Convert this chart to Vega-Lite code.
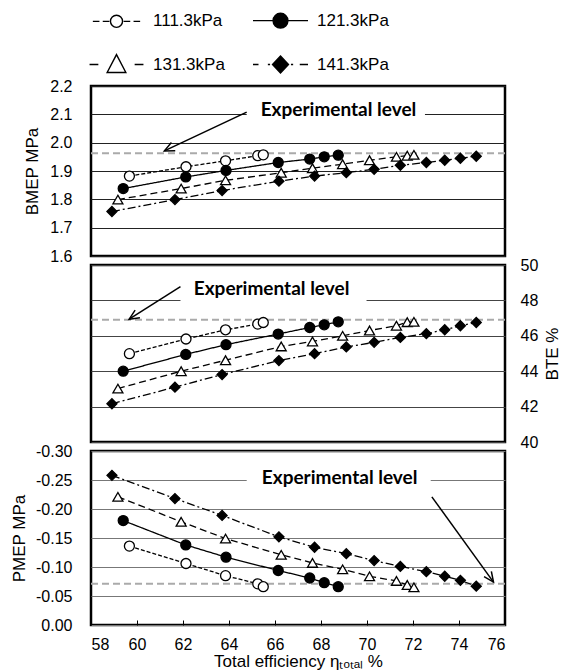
{
  "$schema": "https://vega.github.io/schema/vega-lite/v6.json",
  "padding": {"left": 9, "top": 10, "right": 0, "bottom": 0},
  "datasets": {
    "pts": [
      {"series": "111.3kPa", "eta": 59.67, "bmep": 1.882, "bte": 44.99, "pmep": -0.136},
      {"series": "111.3kPa", "eta": 62.13, "bmep": 1.915, "bte": 45.82, "pmep": -0.106},
      {"series": "111.3kPa", "eta": 63.85, "bmep": 1.936, "bte": 46.34, "pmep": -0.085},
      {"series": "111.3kPa", "eta": 65.25, "bmep": 1.954, "bte": 46.66, "pmep": -0.071},
      {"series": "111.3kPa", "eta": 65.49, "bmep": 1.957, "bte": 46.75, "pmep": -0.066},
      {"series": "121.3kPa", "eta": 59.40, "bmep": 1.838, "bte": 44.00, "pmep": -0.180},
      {"series": "121.3kPa", "eta": 62.12, "bmep": 1.879, "bte": 44.95, "pmep": -0.138},
      {"series": "121.3kPa", "eta": 63.87, "bmep": 1.902, "bte": 45.50, "pmep": -0.117},
      {"series": "121.3kPa", "eta": 66.14, "bmep": 1.930, "bte": 46.10, "pmep": -0.094},
      {"series": "121.3kPa", "eta": 67.51, "bmep": 1.942, "bte": 46.47, "pmep": -0.081},
      {"series": "121.3kPa", "eta": 68.14, "bmep": 1.950, "bte": 46.62, "pmep": -0.073},
      {"series": "121.3kPa", "eta": 68.75, "bmep": 1.956, "bte": 46.79, "pmep": -0.066},
      {"series": "131.3kPa", "eta": 59.17, "bmep": 1.799, "bte": 43.02, "pmep": -0.221},
      {"series": "131.3kPa", "eta": 61.92, "bmep": 1.838, "bte": 44.00, "pmep": -0.178},
      {"series": "131.3kPa", "eta": 63.85, "bmep": 1.867, "bte": 44.62, "pmep": -0.149},
      {"series": "131.3kPa", "eta": 66.27, "bmep": 1.894, "bte": 45.40, "pmep": -0.121},
      {"series": "131.3kPa", "eta": 67.63, "bmep": 1.910, "bte": 45.68, "pmep": -0.107},
      {"series": "131.3kPa", "eta": 68.94, "bmep": 1.924, "bte": 46.00, "pmep": -0.096},
      {"series": "131.3kPa", "eta": 70.11, "bmep": 1.938, "bte": 46.30, "pmep": -0.084},
      {"series": "131.3kPa", "eta": 71.28, "bmep": 1.950, "bte": 46.57, "pmep": -0.076},
      {"series": "131.3kPa", "eta": 71.75, "bmep": 1.954, "bte": 46.77, "pmep": -0.069},
      {"series": "131.3kPa", "eta": 72.04, "bmep": 1.957, "bte": 46.79, "pmep": -0.065},
      {"series": "141.3kPa", "eta": 58.91, "bmep": 1.757, "bte": 42.16, "pmep": -0.258},
      {"series": "141.3kPa", "eta": 61.65, "bmep": 1.799, "bte": 43.10, "pmep": -0.218},
      {"series": "141.3kPa", "eta": 63.70, "bmep": 1.831, "bte": 43.81, "pmep": -0.189},
      {"series": "141.3kPa", "eta": 66.17, "bmep": 1.864, "bte": 44.60, "pmep": -0.152},
      {"series": "141.3kPa", "eta": 67.72, "bmep": 1.882, "bte": 44.99, "pmep": -0.134},
      {"series": "141.3kPa", "eta": 69.10, "bmep": 1.894, "bte": 45.37, "pmep": -0.123},
      {"series": "141.3kPa", "eta": 70.31, "bmep": 1.906, "bte": 45.63, "pmep": -0.111},
      {"series": "141.3kPa", "eta": 71.45, "bmep": 1.920, "bte": 45.91, "pmep": -0.101},
      {"series": "141.3kPa", "eta": 72.58, "bmep": 1.930, "bte": 46.12, "pmep": -0.092},
      {"series": "141.3kPa", "eta": 73.38, "bmep": 1.938, "bte": 46.34, "pmep": -0.084},
      {"series": "141.3kPa", "eta": 74.06, "bmep": 1.945, "bte": 46.57, "pmep": -0.077},
      {"series": "141.3kPa", "eta": 74.75, "bmep": 1.952, "bte": 46.75, "pmep": -0.067}
    ]
  },
  "vconcat": [
    {
      "width": 414,
      "height": 170,
      "layer": [
        {
          "data": {"values": [{"x1": 64.77, "x2": 72.52, "y1": 2.088, "y2": 2.13}]},
          "mark": {"type": "rect", "fill": "white"},
          "encoding": {
            "x": {"field": "x1", "type": "quantitative", "scale": {"domain": [58, 76], "nice": false, "zero": false}, "axis": null},
            "x2": {"field": "x2"},
            "y": {"field": "y1", "type": "quantitative", "scale": {"domain": [1.6, 2.2], "nice": false, "zero": false}, "axis": {"title": "BMEP MPa", "values": [1.6, 1.7, 1.8, 1.9, 2.0, 2.1, 2.2], "format": ".1f", "gridColor": "#222", "ticks": false, "labelPadding": 19, "titlePadding": 8}},
            "y2": {"field": "y2"}
          }
        },
        {
          "data": {"values": [{"lvl": 1.963}]},
          "mark": {"type": "rule", "color": "#aaaaaa", "strokeDash": [7, 4], "strokeWidth": 2},
          "encoding": {
            "y": {"field": "lvl", "type": "quantitative", "scale": {"domain": [1.6, 2.2], "nice": false, "zero": false}, "axis": {"title": "BMEP MPa", "values": [1.6, 1.7, 1.8, 1.9, 2.0, 2.1, 2.2], "format": ".1f", "gridColor": "#222", "ticks": false, "labelPadding": 19, "titlePadding": 8}}
          }
        },
        {
          "data": {"name": "pts"},
          "mark": {"type": "line", "color": "black", "strokeWidth": 1.3},
          "encoding": {
            "x": {"field": "eta", "type": "quantitative", "scale": {"domain": [58, 76], "nice": false, "zero": false}, "axis": null},
            "y": {"field": "bmep", "type": "quantitative", "scale": {"domain": [1.6, 2.2], "nice": false, "zero": false}, "axis": {"title": "BMEP MPa", "values": [1.6, 1.7, 1.8, 1.9, 2.0, 2.1, 2.2], "format": ".1f", "gridColor": "#222", "ticks": false, "labelPadding": 19, "titlePadding": 8}},
            "strokeDash": {"field": "series", "type": "nominal", "scale": {"domain": ["111.3kPa", "121.3kPa", "131.3kPa", "141.3kPa"], "range": [[4, 2], [1, 0], [7, 4], [8, 3, 2, 3]]}, "legend": null}
          }
        },
        {
          "data": {"name": "pts"},
          "mark": {"type": "point", "filled": true, "stroke": "black", "strokeWidth": 1.3, "size": 100, "opacity": 1},
          "encoding": {
            "x": {"field": "eta", "type": "quantitative", "scale": {"domain": [58, 76], "nice": false, "zero": false}, "axis": null},
            "y": {"field": "bmep", "type": "quantitative", "scale": {"domain": [1.6, 2.2], "nice": false, "zero": false}, "axis": {"title": "BMEP MPa", "values": [1.6, 1.7, 1.8, 1.9, 2.0, 2.1, 2.2], "format": ".1f", "gridColor": "#222", "ticks": false, "labelPadding": 19, "titlePadding": 8}},
            "shape": {"field": "series", "type": "nominal", "scale": {"domain": ["111.3kPa", "121.3kPa", "131.3kPa", "141.3kPa"], "range": ["circle", "circle", "triangle-up", "diamond"]}, "legend": null},
            "fill": {"field": "series", "type": "nominal", "scale": {"domain": ["111.3kPa", "121.3kPa", "131.3kPa", "141.3kPa"], "range": ["white", "black", "white", "black"]}, "legend": null}
          }
        },
        {
          "data": {"values": [{"ax": 64.77, "ay": 2.108, "bx": 61.19, "by": 1.971}]},
          "mark": {"type": "rule", "color": "black", "strokeWidth": 1.5},
          "encoding": {
            "x": {"field": "ax", "type": "quantitative", "scale": {"domain": [58, 76], "nice": false, "zero": false}, "axis": null},
            "x2": {"field": "bx"},
            "y": {"field": "ay", "type": "quantitative", "scale": {"domain": [1.6, 2.2], "nice": false, "zero": false}, "axis": {"title": "BMEP MPa", "values": [1.6, 1.7, 1.8, 1.9, 2.0, 2.1, 2.2], "format": ".1f", "gridColor": "#222", "ticks": false, "labelPadding": 19, "titlePadding": 8}},
            "y2": {"field": "by"}
          }
        },
        {
          "data": {"values": [{"bx": 61.19, "by": 1.971}]},
          "mark": {"type": "point", "shape": "M-0.5,1.1L0,0L0.5,1.1", "size": 324, "angle": 244.8, "filled": false, "stroke": "black", "strokeWidth": 1.5, "opacity": 1},
          "encoding": {
            "x": {"field": "bx", "type": "quantitative", "scale": {"domain": [58, 76], "nice": false, "zero": false}, "axis": null},
            "y": {"field": "by", "type": "quantitative", "scale": {"domain": [1.6, 2.2], "nice": false, "zero": false}, "axis": {"title": "BMEP MPa", "values": [1.6, 1.7, 1.8, 1.9, 2.0, 2.1, 2.2], "format": ".1f", "gridColor": "#222", "ticks": false, "labelPadding": 19, "titlePadding": 8}}
          }
        },
        {
          "data": {"values": [{"tx": 68.76, "ty": 2.114, "label": "Experimental level"}]},
          "mark": {"type": "text", "font": "Lato", "fontWeight": "bold", "fontSize": 19, "color": "black"},
          "encoding": {
            "x": {"field": "tx", "type": "quantitative", "scale": {"domain": [58, 76], "nice": false, "zero": false}, "axis": null},
            "y": {"field": "ty", "type": "quantitative", "scale": {"domain": [1.6, 2.2], "nice": false, "zero": false}, "axis": {"title": "BMEP MPa", "values": [1.6, 1.7, 1.8, 1.9, 2.0, 2.1, 2.2], "format": ".1f", "gridColor": "#222", "ticks": false, "labelPadding": 19, "titlePadding": 8}},
            "text": {"field": "label"}
          }
        },
        {
          "data": {"name": "pts"},
          "transform": [{"filter": "false"}],
          "mark": {"type": "point", "size": 121, "filled": true, "strokeWidth": 1.4, "opacity": 1},
          "encoding": {
            "x": {"field": "eta", "type": "quantitative", "scale": {"domain": [58, 76], "nice": false, "zero": false}, "axis": null},
            "y": {"field": "bmep", "type": "quantitative", "scale": {"domain": [1.6, 2.2], "nice": false, "zero": false}, "axis": {"title": "BMEP MPa", "values": [1.6, 1.7, 1.8, 1.9, 2.0, 2.1, 2.2], "format": ".1f", "gridColor": "#222", "ticks": false, "labelPadding": 19, "titlePadding": 8}},
            "shape": {
              "field": "series", "type": "nominal",
              "scale": {"domain": ["111.3kPa", "121.3kPa", "131.3kPa", "141.3kPa"],
                "range": [
                  "M-4.3,0H-3.1M-2.5,0H-1.3M1.3,0H2.5M3.1,0H4.3M1.1,0A1.1,1.1,0,1,1,-1.1,0A1.1,1.1,0,1,1,1.1,0Z",
                  "M-5,0H-1.3M1.3,0H5M1.35,0A1.35,1.35,0,1,1,-1.35,0A1.35,1.35,0,1,1,1.35,0Z",
                  "M-4.9,0H-3.3M3.3,0H4.9M0,-1.8L1.7,1.45L-1.7,1.45Z",
                  "M-5,0H-4M-2.3,0H-1.9M1.9,0H2.3M3.5,0H5M0,-1.55L1.45,0L0,1.55L-1.45,0Z"
                ]},
              "legend": {
                "title": null, "orient": "none", "legendX": 17, "legendY": -74, "direction": "horizontal",
                "columns": 2, "columnPadding": 25, "rowPadding": 20, "symbolSize": 121,
                "symbolStrokeWidth": 1.4, "symbolStrokeColor": "black", "labelOffset": 28,
                "labelFontSize": 17, "labelFont": "Liberation Sans", "labelColor": "black", "padding": 0
              }
            },
            "fill": {
              "field": "series", "type": "nominal",
              "scale": {"domain": ["111.3kPa", "121.3kPa", "131.3kPa", "141.3kPa"], "range": ["white", "black", "white", "black"]},
              "legend": {
                "title": null, "orient": "none", "legendX": 17, "legendY": -74, "direction": "horizontal",
                "columns": 2, "columnPadding": 25, "rowPadding": 20, "symbolSize": 121,
                "symbolStrokeWidth": 1.4, "symbolStrokeColor": "black", "labelOffset": 28,
                "labelFontSize": 17, "labelFont": "Liberation Sans", "labelColor": "black", "padding": 0
              }
            },
            "stroke": {
              "field": "series", "type": "nominal",
              "scale": {"domain": ["111.3kPa", "121.3kPa", "131.3kPa", "141.3kPa"], "range": ["black", "black", "black", "black"]},
              "legend": {
                "title": null, "orient": "none", "legendX": 17, "legendY": -74, "direction": "horizontal",
                "columns": 2, "columnPadding": 25, "rowPadding": 20, "symbolSize": 121,
                "symbolStrokeWidth": 1.4, "symbolStrokeColor": "black", "labelOffset": 28,
                "labelFontSize": 17, "labelFont": "Liberation Sans", "labelColor": "black", "padding": 0
              }
            }
          }
        }
      ],
      "resolve": {"scale": {"shape": "independent", "fill": "independent", "stroke": "independent"}}
    },
    {
      "width": 414,
      "height": 177,
      "layer": [
        {
          "data": {"values": [{"x1": 61.89, "x2": 69.98, "y1": 47.8, "y2": 48.25}]},
          "mark": {"type": "rect", "fill": "white"},
          "encoding": {
            "x": {"field": "x1", "type": "quantitative", "scale": {"domain": [58, 76], "nice": false, "zero": false}, "axis": null},
            "x2": {"field": "x2"},
            "y": {"field": "y1", "type": "quantitative", "scale": {"domain": [40, 50], "nice": false, "zero": false}, "axis": {"title": "BTE %", "orient": "right", "values": [40, 42, 44, 46, 48, 50], "format": "d", "gridColor": "#444", "ticks": false, "labelPadding": 15, "titlePadding": 7, "titleAngle": 270, "titleBaseline": "top"}},
            "y2": {"field": "y2"}
          }
        },
        {
          "data": {"values": [{"lvl": 46.9}]},
          "mark": {"type": "rule", "color": "#aaaaaa", "strokeDash": [7, 4], "strokeWidth": 2},
          "encoding": {
            "y": {"field": "lvl", "type": "quantitative", "scale": {"domain": [40, 50], "nice": false, "zero": false}, "axis": {"title": "BTE %", "orient": "right", "values": [40, 42, 44, 46, 48, 50], "format": "d", "gridColor": "#444", "ticks": false, "labelPadding": 15, "titlePadding": 7, "titleAngle": 270, "titleBaseline": "top"}}
          }
        },
        {
          "data": {"name": "pts"},
          "mark": {"type": "line", "color": "black", "strokeWidth": 1.3},
          "encoding": {
            "x": {"field": "eta", "type": "quantitative", "scale": {"domain": [58, 76], "nice": false, "zero": false}, "axis": null},
            "y": {"field": "bte", "type": "quantitative", "scale": {"domain": [40, 50], "nice": false, "zero": false}, "axis": {"title": "BTE %", "orient": "right", "values": [40, 42, 44, 46, 48, 50], "format": "d", "gridColor": "#444", "ticks": false, "labelPadding": 15, "titlePadding": 7, "titleAngle": 270, "titleBaseline": "top"}},
            "strokeDash": {"field": "series", "type": "nominal", "scale": {"domain": ["111.3kPa", "121.3kPa", "131.3kPa", "141.3kPa"], "range": [[4, 2], [1, 0], [7, 4], [8, 3, 2, 3]]}, "legend": null}
          }
        },
        {
          "data": {"name": "pts"},
          "mark": {"type": "point", "filled": true, "stroke": "black", "strokeWidth": 1.3, "size": 100, "opacity": 1},
          "encoding": {
            "x": {"field": "eta", "type": "quantitative", "scale": {"domain": [58, 76], "nice": false, "zero": false}, "axis": null},
            "y": {"field": "bte", "type": "quantitative", "scale": {"domain": [40, 50], "nice": false, "zero": false}, "axis": {"title": "BTE %", "orient": "right", "values": [40, 42, 44, 46, 48, 50], "format": "d", "gridColor": "#444", "ticks": false, "labelPadding": 15, "titlePadding": 7, "titleAngle": 270, "titleBaseline": "top"}},
            "shape": {"field": "series", "type": "nominal", "scale": {"domain": ["111.3kPa", "121.3kPa", "131.3kPa", "141.3kPa"], "range": ["circle", "circle", "triangle-up", "diamond"]}, "legend": null},
            "fill": {"field": "series", "type": "nominal", "scale": {"domain": ["111.3kPa", "121.3kPa", "131.3kPa", "141.3kPa"], "range": ["white", "black", "white", "black"]}, "legend": null}
          }
        },
        {
          "data": {"values": [{"ax": 61.89, "ay": 48.78, "bx": 59.66, "by": 46.94}]},
          "mark": {"type": "rule", "color": "black", "strokeWidth": 1.5},
          "encoding": {
            "x": {"field": "ax", "type": "quantitative", "scale": {"domain": [58, 76], "nice": false, "zero": false}, "axis": null},
            "x2": {"field": "bx"},
            "y": {"field": "ay", "type": "quantitative", "scale": {"domain": [40, 50], "nice": false, "zero": false}, "axis": {"title": "BTE %", "orient": "right", "values": [40, 42, 44, 46, 48, 50], "format": "d", "gridColor": "#444", "ticks": false, "labelPadding": 15, "titlePadding": 7, "titleAngle": 270, "titleBaseline": "top"}},
            "y2": {"field": "by"}
          }
        },
        {
          "data": {"values": [{"bx": 59.66, "by": 46.94}]},
          "mark": {"type": "point", "shape": "M-0.5,1.1L0,0L0.5,1.1", "size": 324, "angle": 237.6, "filled": false, "stroke": "black", "strokeWidth": 1.5, "opacity": 1},
          "encoding": {
            "x": {"field": "bx", "type": "quantitative", "scale": {"domain": [58, 76], "nice": false, "zero": false}, "axis": null},
            "y": {"field": "by", "type": "quantitative", "scale": {"domain": [40, 50], "nice": false, "zero": false}, "axis": {"title": "BTE %", "orient": "right", "values": [40, 42, 44, 46, 48, 50], "format": "d", "gridColor": "#444", "ticks": false, "labelPadding": 15, "titlePadding": 7, "titleAngle": 270, "titleBaseline": "top"}}
          }
        },
        {
          "data": {"values": [{"tx": 65.85, "ty": 48.66, "label": "Experimental level"}]},
          "mark": {"type": "text", "font": "Lato", "fontWeight": "bold", "fontSize": 19, "color": "black"},
          "encoding": {
            "x": {"field": "tx", "type": "quantitative", "scale": {"domain": [58, 76], "nice": false, "zero": false}, "axis": null},
            "y": {"field": "ty", "type": "quantitative", "scale": {"domain": [40, 50], "nice": false, "zero": false}, "axis": {"title": "BTE %", "orient": "right", "values": [40, 42, 44, 46, 48, 50], "format": "d", "gridColor": "#444", "ticks": false, "labelPadding": 15, "titlePadding": 7, "titleAngle": 270, "titleBaseline": "top"}},
            "text": {"field": "label"}
          }
        }
      ]
    },
    {
      "width": 414,
      "height": 174,
      "layer": [
        {
          "data": {"values": [{"x1": 64.77, "x2": 72.77, "y1": -0.241, "y2": -0.259}]},
          "mark": {"type": "rect", "fill": "white"},
          "encoding": {
            "x": {"field": "x1", "type": "quantitative", "scale": {"domain": [58, 76], "nice": false, "zero": false}, "axis": {"title": "Total efficiency ηₜₒₜₐₗ %", "values": [58, 60, 62, 64, 66, 68, 70, 72, 74, 76], "format": "d", "grid": false, "ticks": true, "tickSize": -5, "tickColor": "black", "tickWidth": 1, "labelPadding": 16, "titlePadding": 1}},
            "x2": {"field": "x2"},
            "y": {"field": "y1", "type": "quantitative", "scale": {"domain": [-0.3, 0], "reverse": true, "nice": false, "zero": false}, "axis": {"title": "PMEP MPa", "values": [-0.3, -0.25, -0.2, -0.15, -0.1, -0.05, 0], "format": ".2f", "labelExpr": "replace(datum.label, '−', '-')", "gridColor": "#777", "ticks": false, "labelPadding": 19, "titlePadding": 7}},
            "y2": {"field": "y2"}
          }
        },
        {
          "data": {"values": [{"lvl": -0.071}]},
          "mark": {"type": "rule", "color": "#aaaaaa", "strokeDash": [7, 4], "strokeWidth": 2},
          "encoding": {
            "y": {"field": "lvl", "type": "quantitative", "scale": {"domain": [-0.3, 0], "reverse": true, "nice": false, "zero": false}, "axis": {"title": "PMEP MPa", "values": [-0.3, -0.25, -0.2, -0.15, -0.1, -0.05, 0], "format": ".2f", "labelExpr": "replace(datum.label, '−', '-')", "gridColor": "#777", "ticks": false, "labelPadding": 19, "titlePadding": 7}}
          }
        },
        {
          "data": {"name": "pts"},
          "mark": {"type": "line", "color": "black", "strokeWidth": 1.3},
          "encoding": {
            "x": {"field": "eta", "type": "quantitative", "scale": {"domain": [58, 76], "nice": false, "zero": false}, "axis": {"title": "Total efficiency ηₜₒₜₐₗ %", "values": [58, 60, 62, 64, 66, 68, 70, 72, 74, 76], "format": "d", "grid": false, "ticks": true, "tickSize": -5, "tickColor": "black", "tickWidth": 1, "labelPadding": 16, "titlePadding": 1}},
            "y": {"field": "pmep", "type": "quantitative", "scale": {"domain": [-0.3, 0], "reverse": true, "nice": false, "zero": false}, "axis": {"title": "PMEP MPa", "values": [-0.3, -0.25, -0.2, -0.15, -0.1, -0.05, 0], "format": ".2f", "labelExpr": "replace(datum.label, '−', '-')", "gridColor": "#777", "ticks": false, "labelPadding": 19, "titlePadding": 7}},
            "strokeDash": {"field": "series", "type": "nominal", "scale": {"domain": ["111.3kPa", "121.3kPa", "131.3kPa", "141.3kPa"], "range": [[4, 2], [1, 0], [7, 4], [8, 3, 2, 3]]}, "legend": null}
          }
        },
        {
          "data": {"name": "pts"},
          "mark": {"type": "point", "filled": true, "stroke": "black", "strokeWidth": 1.3, "size": 100, "opacity": 1},
          "encoding": {
            "x": {"field": "eta", "type": "quantitative", "scale": {"domain": [58, 76], "nice": false, "zero": false}, "axis": {"title": "Total efficiency ηₜₒₜₐₗ %", "values": [58, 60, 62, 64, 66, 68, 70, 72, 74, 76], "format": "d", "grid": false, "ticks": true, "tickSize": -5, "tickColor": "black", "tickWidth": 1, "labelPadding": 16, "titlePadding": 1}},
            "y": {"field": "pmep", "type": "quantitative", "scale": {"domain": [-0.3, 0], "reverse": true, "nice": false, "zero": false}, "axis": {"title": "PMEP MPa", "values": [-0.3, -0.25, -0.2, -0.15, -0.1, -0.05, 0], "format": ".2f", "labelExpr": "replace(datum.label, '−', '-')", "gridColor": "#777", "ticks": false, "labelPadding": 19, "titlePadding": 7}},
            "shape": {"field": "series", "type": "nominal", "scale": {"domain": ["111.3kPa", "121.3kPa", "131.3kPa", "141.3kPa"], "range": ["circle", "circle", "triangle-up", "diamond"]}, "legend": null},
            "fill": {"field": "series", "type": "nominal", "scale": {"domain": ["111.3kPa", "121.3kPa", "131.3kPa", "141.3kPa"], "range": ["white", "black", "white", "black"]}, "legend": null}
          }
        },
        {
          "data": {"values": [{"ax": 72.82, "ay": -0.221, "bx": 75.5, "by": -0.074}]},
          "mark": {"type": "rule", "color": "black", "strokeWidth": 1.5},
          "encoding": {
            "x": {"field": "ax", "type": "quantitative", "scale": {"domain": [58, 76], "nice": false, "zero": false}, "axis": {"title": "Total efficiency ηₜₒₜₐₗ %", "values": [58, 60, 62, 64, 66, 68, 70, 72, 74, 76], "format": "d", "grid": false, "ticks": true, "tickSize": -5, "tickColor": "black", "tickWidth": 1, "labelPadding": 16, "titlePadding": 1}},
            "x2": {"field": "bx"},
            "y": {"field": "ay", "type": "quantitative", "scale": {"domain": [-0.3, 0], "reverse": true, "nice": false, "zero": false}, "axis": {"title": "PMEP MPa", "values": [-0.3, -0.25, -0.2, -0.15, -0.1, -0.05, 0], "format": ".2f", "labelExpr": "replace(datum.label, '−', '-')", "gridColor": "#777", "ticks": false, "labelPadding": 19, "titlePadding": 7}},
            "y2": {"field": "by"}
          }
        },
        {
          "data": {"values": [{"bx": 75.5, "by": -0.074}]},
          "mark": {"type": "point", "shape": "M-0.5,1.1L0,0L0.5,1.1", "size": 324, "angle": 144.2, "filled": false, "stroke": "black", "strokeWidth": 1.5, "opacity": 1},
          "encoding": {
            "x": {"field": "bx", "type": "quantitative", "scale": {"domain": [58, 76], "nice": false, "zero": false}, "axis": {"title": "Total efficiency ηₜₒₜₐₗ %", "values": [58, 60, 62, 64, 66, 68, 70, 72, 74, 76], "format": "d", "grid": false, "ticks": true, "tickSize": -5, "tickColor": "black", "tickWidth": 1, "labelPadding": 16, "titlePadding": 1}},
            "y": {"field": "by", "type": "quantitative", "scale": {"domain": [-0.3, 0], "reverse": true, "nice": false, "zero": false}, "axis": {"title": "PMEP MPa", "values": [-0.3, -0.25, -0.2, -0.15, -0.1, -0.05, 0], "format": ".2f", "labelExpr": "replace(datum.label, '−', '-')", "gridColor": "#777", "ticks": false, "labelPadding": 19, "titlePadding": 7}}
          }
        },
        {
          "data": {"values": [{"tx": 68.81, "ty": -0.2526, "label": "Experimental level"}]},
          "mark": {"type": "text", "font": "Lato", "fontWeight": "bold", "fontSize": 19, "color": "black"},
          "encoding": {
            "x": {"field": "tx", "type": "quantitative", "scale": {"domain": [58, 76], "nice": false, "zero": false}, "axis": {"title": "Total efficiency ηₜₒₜₐₗ %", "values": [58, 60, 62, 64, 66, 68, 70, 72, 74, 76], "format": "d", "grid": false, "ticks": true, "tickSize": -5, "tickColor": "black", "tickWidth": 1, "labelPadding": 16, "titlePadding": 1}},
            "y": {"field": "ty", "type": "quantitative", "scale": {"domain": [-0.3, 0], "reverse": true, "nice": false, "zero": false}, "axis": {"title": "PMEP MPa", "values": [-0.3, -0.25, -0.2, -0.15, -0.1, -0.05, 0], "format": ".2f", "labelExpr": "replace(datum.label, '−', '-')", "gridColor": "#777", "ticks": false, "labelPadding": 19, "titlePadding": 7}},
            "text": {"field": "label"}
          }
        }
      ]
    }
  ],
  "spacing": 9,
  "bounds": "flush",
  "resolve": {"scale": {"shape": "independent", "fill": "independent", "strokeDash": "independent", "stroke": "independent"}},
  "config": {
    "font": "Liberation Sans",
    "view": {"stroke": "black", "strokeWidth": 2.5},
    "axis": {
      "labelFont": "Liberation Sans",
      "titleFont": "Liberation Sans",
      "labelFontSize": 16,
      "titleFontSize": 17,
      "titleFontWeight": "normal",
      "labelColor": "black",
      "titleColor": "black",
      "domain": false,
      "gridWidth": 1,
      "gridOpacity": 1
    }
  }
}
